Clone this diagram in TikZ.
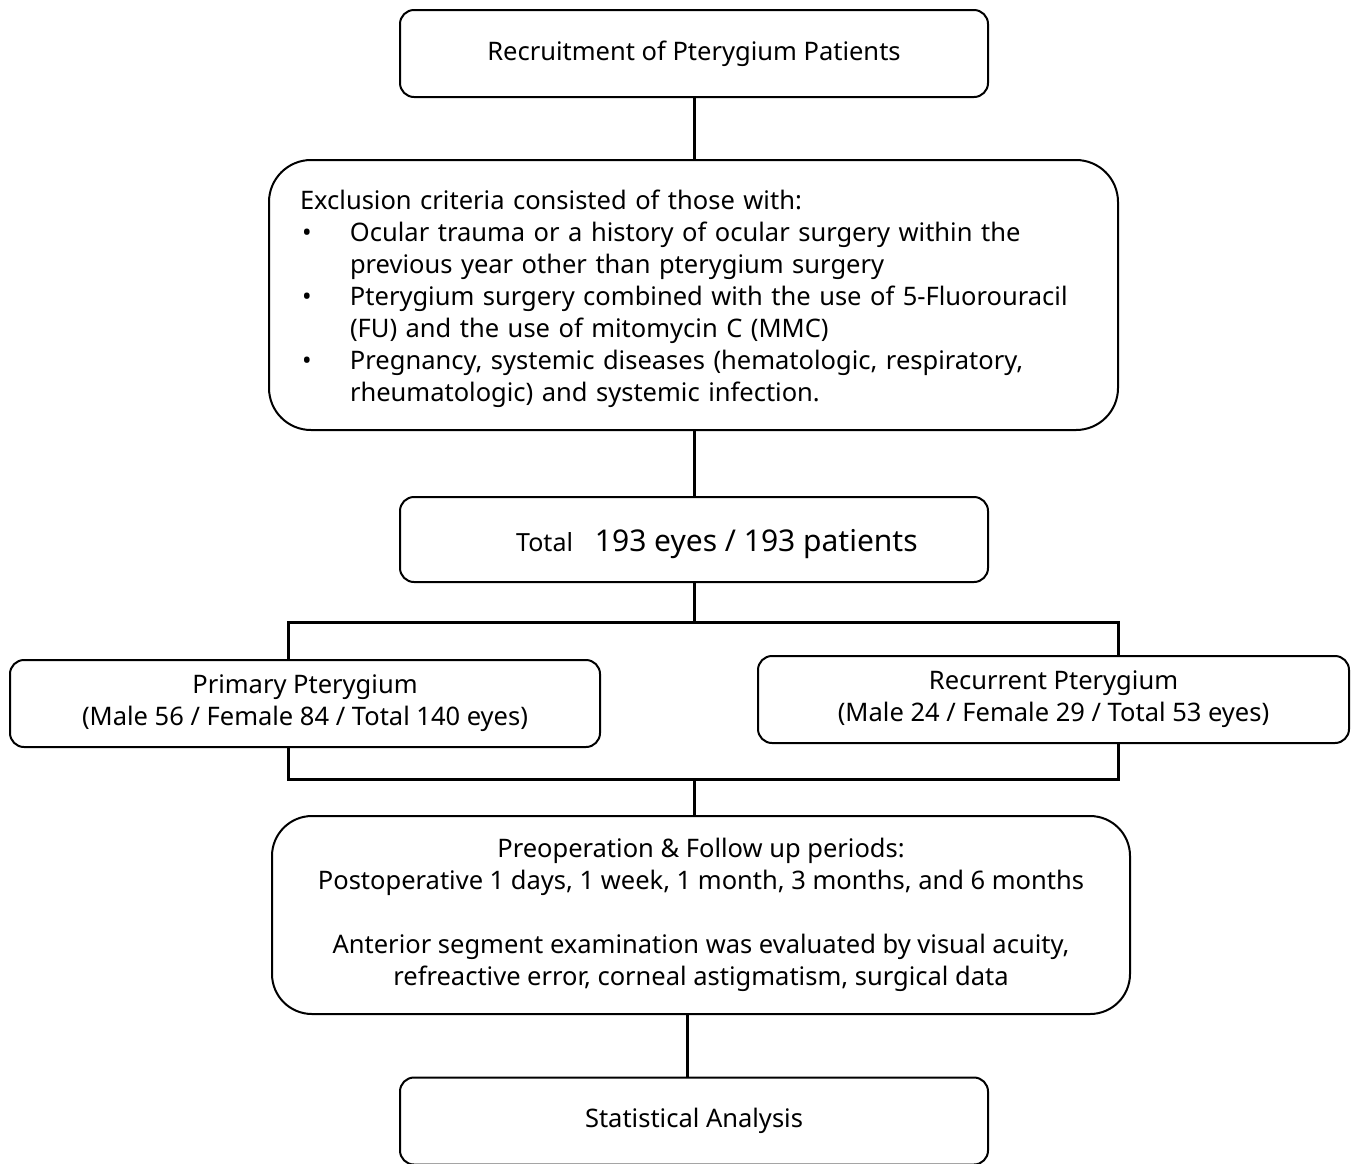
\documentclass[tikz,border=0pt]{standalone}
\usepackage{fontspec}
\setmainfont{Noto Sans}
\usetikzlibrary{backgrounds}
\begin{document}
\begin{tikzpicture}[x=1pt,y=-1pt,
  box/.style={draw, line width=2pt, rounded corners=14pt, fill=white, align=center, inner sep=0pt},
  bigbox/.style={box, rounded corners=42pt},
  conn/.style={line width=3pt},
  txt/.style={font=\fontsize{25.5}{32}\selectfont}]
\useasboundingbox (0,0) rectangle (1351,1163);
\node[box, txt, minimum width=588pt, minimum height=87pt] (rec) at (694,53.5) {Recruitment of Pterygium Patients};
\node[bigbox, minimum width=849pt, minimum height=270pt] (exc) at (693.5,295) {};
\node[txt, text width=787pt, align=left, inner sep=0pt] (exct) at (693.5,299) {%
Exclusion criteria consisted of those with:\\
\makebox[50pt][l]{\hspace{2pt}•}Ocular trauma or a history of ocular surgery within the\\
\hspace*{50pt}previous year other than pterygium surgery\\
\makebox[50pt][l]{\hspace{2pt}•}Pterygium surgery combined with the use of 5-Fluorouracil\\
\hspace*{50pt}(FU) and the use of mitomycin C (MMC)\\
\makebox[50pt][l]{\hspace{2pt}•}Pregnancy, systemic diseases (hematologic, respiratory,\\
\hspace*{50pt}rheumatologic) and systemic infection.};
\node[box, minimum width=588pt, minimum height=85pt] (tot) at (694,539.5) {};
\node[anchor=base west, inner sep=0pt] (totl) at (516,551) {\fontsize{25}{28}\selectfont Total\hspace{22pt}\fontsize{30}{32}\selectfont 193 eyes / 193 patients};
\node[box, txt, minimum width=590pt, minimum height=87pt] (pri) at (305,703.5) {Primary Pterygium\\(Male 56 / Female 84 / Total 140 eyes)};
\node[box, txt, minimum width=591pt, minimum height=87pt] (recu) at (1053.5,699.5) {Recurrent Pterygium\\(Male 24 / Female 29 / Total 53 eyes)};
\node[bigbox, txt, rounded corners=40pt, minimum width=858pt, minimum height=198pt] (pre) at (701,915) {Preoperation \& Follow up periods:\\Postoperative 1 days, 1 week, 1 month, 3 months, and 6 months\\[32pt]Anterior segment examination was evaluated by visual acuity,\\refreactive error, corneal astigmatism, surgical data};
\node[box, txt, minimum width=588pt, minimum height=87pt] (stat) at (694,1121) {Statistical Analysis};
\coordinate (tl) at (288,622);
\coordinate (br) at (1118,779);
\coordinate (lowx) at (687,0);
\begin{scope}[on background layer]
\draw[conn] (rec.south) -- (rec.south |- exc.north);
\draw[conn] (rec.south |- exc.south) -- (tot.north);
\draw[conn] (tot.south) -- (tot.south |- tl);
\draw[conn] (tl) rectangle (br);
\draw[conn] (tot.south |- br) -- (tot.south |- pre.north);
\draw[conn] (lowx |- pre.south) -- (lowx |- stat.north);
\end{scope}
\end{tikzpicture}
\end{document}
